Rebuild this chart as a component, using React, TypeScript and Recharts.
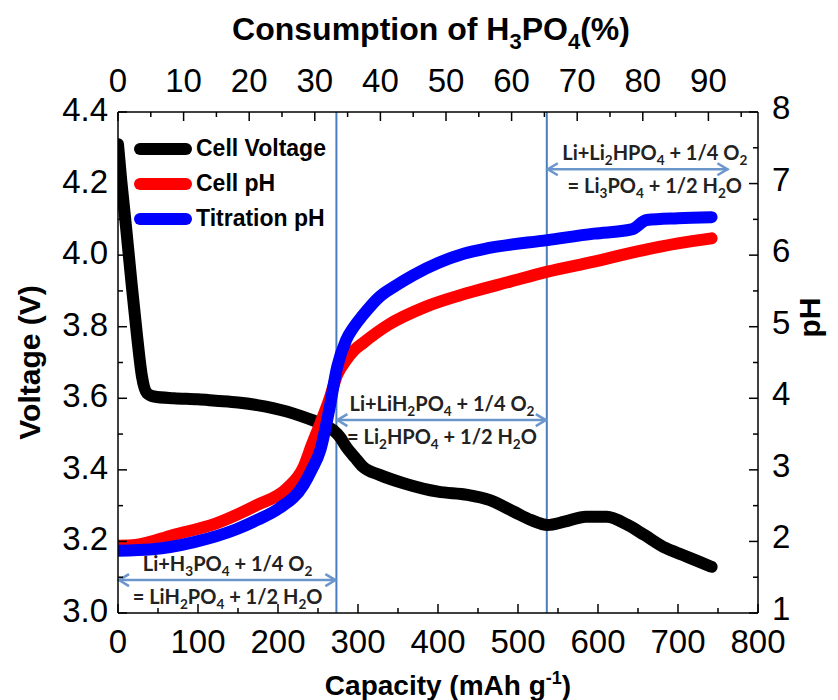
import {
  ComposedChart,
  Label,
  Legend,
  Line,
  ReferenceLine,
  XAxis,
  YAxis,
} from 'recharts';

const AXIS_FONT = '"Liberation Sans", Arial, sans-serif';
const NOTE_FONT = 'Lato, "Open Sans", sans-serif';
const GUIDE_BLUE = '#4a7ebb';
const ARROW_BLUE = '#6b96cc';

// Cell voltage (V) against discharge capacity (mAh/g)
const voltageCapacity = [
  0, 4, 10, 17, 24, 30, 36, 45, 70, 100, 122, 150, 174, 195, 211, 228, 243, 258, 269, 278, 285,
  296, 306, 327, 358, 400, 437, 464, 495, 516, 537, 558, 585, 611, 637, 658, 685, 706, 727, 742,
];
const cellVoltage = [
  4.31, 4.21, 4.08, 3.92, 3.77, 3.66, 3.615, 3.605, 3.6, 3.597, 3.593, 3.588, 3.581, 3.572, 3.563,
  3.551, 3.539, 3.525, 3.511, 3.49, 3.465, 3.435, 3.409, 3.386, 3.362, 3.339, 3.33, 3.316, 3.283,
  3.26, 3.246, 3.255, 3.269, 3.269, 3.246, 3.218, 3.181, 3.162, 3.143, 3.129,
];

// pH measured in the cell
const cellPhCapacity = [
  0, 22, 69, 122, 174, 211, 232, 242, 253, 264, 274, 285, 295, 306, 337, 385, 437, 490, 537, 595,
  648, 700, 742,
];
const cellPh = [
  1.94, 1.95, 2.09, 2.25, 2.51, 2.74, 3.04, 3.34, 3.65, 3.98, 4.33, 4.53, 4.67, 4.77, 5.02, 5.28,
  5.47, 5.63, 5.77, 5.91, 6.05, 6.165, 6.235,
];

// pH from the LiOH titration
const titrationCapacity = [
  0, 43, 95, 148, 174, 201, 232, 242, 253, 264, 274, 285, 295, 306, 327, 348, 369, 400, 432, 464,
  537, 595, 642, 661, 700, 742,
];
const titrationPh = [
  1.87, 1.89, 1.99, 2.17, 2.3, 2.46, 2.79, 3.0, 3.28, 3.84, 4.44, 4.81, 5.0, 5.16, 5.42, 5.58,
  5.72, 5.89, 6.02, 6.1, 6.21, 6.3, 6.36, 6.49, 6.515, 6.53,
];

const capacityTicks = [0, 50, 100, 150, 200, 250, 300, 350, 400, 450, 500, 550, 600, 650, 700, 750, 800];
const consumptionTicks = [0, 5, 10, 15, 20, 25, 30, 35, 40, 45, 50, 55, 60, 65, 70, 75, 80, 85, 90, 95];
const voltageTicks = [3.0, 3.1, 3.2, 3.3, 3.4, 3.5, 3.6, 3.7, 3.8, 3.9, 4.0, 4.1, 4.2, 4.3, 4.4];
const phTicks = [1, 1.5, 2, 2.5, 3, 3.5, 4, 4.5, 5, 5.5, 6, 6.5, 7, 7.5, 8];

// 820 mAh/g converts all of the H3PO4, so 800 mAh/g sits at 97.56 %
const fullCapacity = 820;
const consumptionMax = (800 / fullCapacity) * 100;

const stepBoundaries = [273, 536];

const reactionSteps = [
  { from: 0, to: 273, level: 3.092, center: 137, above: 'Li+H_3PO_4 + 1/4 O_2', below: '= LiH_2PO_4 + 1/2 H_2O' },
  { from: 273, to: 536, level: 3.539, center: 405, above: 'Li+LiH_2PO_4 + 1/4 O_2', below: '= Li_2HPO_4 + 1/2 H_2O' },
  { from: 536, to: 763, level: 4.24, center: 671, above: 'Li+Li_2HPO_4 + 1/4 O_2', below: '= Li_3PO_4 + 1/2 H_2O' },
];

const voltageData = voltageCapacity.map((cap, i) => ({ cap, value: cellVoltage[i] }));
const cellPhData = cellPhCapacity.map((cap, i) => ({ cap, value: cellPh[i] }));
const titrationData = titrationCapacity.map((cap, i) => ({ cap, value: titrationPh[i] }));
// same titration run expressed as % H3PO4 consumed, carries the top axis
const consumptionData = titrationCapacity.map((cap, i) => ({
  pct: (cap / fullCapacity) * 100,
  value: titrationPh[i],
}));

const TICK_SIZE = 33;
const MAJOR = 9;
const MINOR = 5;

function TickMark({ x1, y1, x2, y2 }: { x1: number; y1: number; x2: number; y2: number }) {
  return <line x1={x1} y1={y1} x2={x2} y2={y2} stroke="#000" strokeWidth={1.5} />;
}

const capacityTick = (p: any) => {
  const v = p.payload.value;
  const major = v % 100 === 0;
  return (
    <g>
      <TickMark x1={p.x} x2={p.x} y1={p.y} y2={p.y - (major ? MAJOR : MINOR)} />
      {major && (
        <text x={p.x} y={p.y + 40} textAnchor="middle" fontSize={TICK_SIZE} fontFamily={AXIS_FONT}>
          {v}
        </text>
      )}
    </g>
  );
};

const consumptionTick = (p: any) => {
  const v = p.payload.value;
  const major = v % 10 === 0;
  return (
    <g>
      <TickMark x1={p.x} x2={p.x} y1={p.y} y2={p.y + (major ? MAJOR : MINOR)} />
      {major && (
        <text x={p.x} y={p.y - 20} textAnchor="middle" fontSize={TICK_SIZE} fontFamily={AXIS_FONT}>
          {v}
        </text>
      )}
    </g>
  );
};

const voltageTick = (p: any) => {
  const v = p.payload.value;
  const major = Math.round(v * 10) % 2 === 0;
  return (
    <g>
      <TickMark x1={p.x} x2={p.x + (major ? MAJOR : MINOR)} y1={p.y} y2={p.y} />
      {major && (
        <text x={p.x - 10} y={p.y + 9} textAnchor="end" fontSize={TICK_SIZE} fontFamily={AXIS_FONT}>
          {v.toFixed(1)}
        </text>
      )}
    </g>
  );
};

const phTick = (p: any) => {
  const v = p.payload.value;
  const major = Number.isInteger(v);
  return (
    <g>
      <TickMark x1={p.x} x2={p.x - (major ? MAJOR : MINOR)} y1={p.y} y2={p.y} />
      {major && (
        <text x={p.x + 14} y={p.y + 7} textAnchor="start" fontSize={TICK_SIZE} fontFamily={AXIS_FONT}>
          {v}
        </text>
      )}
    </g>
  );
};

// "H_3PO_4" -> H, subscript 3, PO, subscript 4
function chemParts(formula: string, size: number, drop: number) {
  return formula.split(/_(\d)/).map((part, i) => {
    if (i % 2 === 1) {
      return (
        <tspan key={i} dy={drop} fontSize={size * 0.68}>
          {part}
        </tspan>
      );
    }
    return (
      <tspan key={i} dy={i === 0 ? 0 : -drop}>
        {part}
      </tspan>
    );
  });
}

function ReactionArrow(props: any) {
  const { x1, y1, x2, step } = props;
  const head = 11;
  const wing = 6;
  const cx = x1 + ((step.center - step.from) / (step.to - step.from)) * (x2 - x1);
  const arrowStyle = { fill: 'none', stroke: ARROW_BLUE, strokeWidth: 2.5 };
  const textProps = {
    x: cx,
    textAnchor: 'middle' as const,
    fontFamily: NOTE_FONT,
    fontWeight: 700,
    fontSize: 20,
    fill: '#222',
  };
  return (
    <g>
      <line x1={x1} y1={y1} x2={x2} y2={y1} {...arrowStyle} />
      <polyline points={`${x1 + head},${y1 - wing} ${x1 + 1},${y1} ${x1 + head},${y1 + wing}`} {...arrowStyle} />
      <polyline points={`${x2 - head},${y1 - wing} ${x2 - 1},${y1} ${x2 - head},${y1 + wing}`} {...arrowStyle} />
      <text y={y1 - 9} {...textProps}>
        {chemParts(step.above, 20, 5)}
      </text>
      <text y={y1 + 24} {...textProps}>
        {chemParts(step.below, 20, 5)}
      </text>
    </g>
  );
}

const titleStyle = { fontFamily: AXIS_FONT, fontWeight: 700, fill: '#000' };

const ConsumptionTitle = ({ viewBox }: any) => (
  <text x={viewBox.x + viewBox.width / 2 - 7} y={viewBox.y + 40} textAnchor="middle" fontSize={32} {...titleStyle}>
    Consumption of H<tspan dy={9} fontSize={22}>3</tspan>
    <tspan dy={-9}>PO</tspan>
    <tspan dy={9} fontSize={22}>4</tspan>
    <tspan dy={-9}>(%)</tspan>
  </text>
);

const CapacityTitle = ({ viewBox }: any) => (
  <text x={viewBox.x + viewBox.width / 2 + 10} y={viewBox.y + 82} textAnchor="middle" fontSize={28} {...titleStyle}>
    Capacity (mAh g<tspan dy={-11} fontSize={18}>-1</tspan>
    <tspan dy={11}>)</tspan>
  </text>
);

const VoltageTitle = ({ viewBox }: any) => {
  const x = viewBox.x + 40;
  const y = viewBox.y + viewBox.height / 2;
  return (
    <text x={x} y={y} transform={`rotate(-90, ${x}, ${y})`} textAnchor="middle" fontSize={30} {...titleStyle}>
      Voltage (V)
    </text>
  );
};

const PhTitle = ({ viewBox }: any) => {
  const x = viewBox.x + 62;
  const y = viewBox.y + viewBox.height / 2 - 45;
  return (
    <text x={x} y={y} transform={`rotate(-90, ${x}, ${y})`} textAnchor="middle" fontSize={30} {...titleStyle}>
      pH
    </text>
  );
};

function SeriesKey({ payload }: any) {
  const entries = (payload || []).filter((entry: any) => entry.type !== 'none');
  return (
    <div>
      {entries.map((entry: any) => (
        <div key={entry.value} style={{ display: 'flex', alignItems: 'center', height: 35 }}>
          <svg width={60} height={14} style={{ marginRight: 3 }}>
            <line x1={7} x2={53} y1={7} y2={7} stroke={entry.color} strokeWidth={12} strokeLinecap="round" />
          </svg>
          <span style={{ fontFamily: AXIS_FONT, fontWeight: 700, fontSize: 23, color: '#000' }}>
            {entry.value}
          </span>
        </div>
      ))}
    </div>
  );
}

const axisLine = { stroke: '#000', strokeWidth: 1.5 };

export default function App() {
  return (
    <div style={{ position: 'absolute', left: 0, top: 0, width: 838, height: 700, background: '#fff' }}>
      <ComposedChart width={838} height={700} margin={{ top: 0, right: 0, bottom: 0, left: 0 }}>
        <XAxis
          xAxisId="cap"
          dataKey="cap"
          type="number"
          domain={[0, 800]}
          ticks={capacityTicks}
          interval={0}
          height={87}
          tickSize={0}
          tickMargin={0}
          tick={capacityTick}
          axisLine={axisLine}
          allowDataOverflow
        >
          <Label content={CapacityTitle} />
        </XAxis>
        <XAxis
          xAxisId="pct"
          dataKey="pct"
          orientation="top"
          type="number"
          domain={[0, consumptionMax]}
          ticks={consumptionTicks}
          interval={0}
          height={112}
          tickSize={0}
          tickMargin={0}
          tick={consumptionTick}
          axisLine={axisLine}
          allowDataOverflow
        >
          <Label content={ConsumptionTitle} />
        </XAxis>
        <YAxis
          yAxisId="v"
          type="number"
          domain={[3.0, 4.4]}
          ticks={voltageTicks}
          interval={0}
          width={118}
          tickSize={0}
          tickMargin={0}
          tick={voltageTick}
          axisLine={axisLine}
          allowDataOverflow
        >
          <Label content={VoltageTitle} />
        </YAxis>
        <YAxis
          yAxisId="ph"
          orientation="right"
          type="number"
          domain={[1, 8]}
          ticks={phTicks}
          interval={0}
          width={80}
          tickSize={0}
          tickMargin={0}
          tick={phTick}
          axisLine={axisLine}
          allowDataOverflow
        >
          <Label content={PhTitle} />
        </YAxis>

        {stepBoundaries.map((cap) => (
          <ReferenceLine key={cap} xAxisId="cap" yAxisId="v" x={cap} stroke={GUIDE_BLUE} strokeWidth={2} />
        ))}

        <Line
          xAxisId="pct"
          yAxisId="ph"
          name="H3PO4 consumed"
          data={consumptionData}
          dataKey="value"
          type="monotone"
          stroke="none"
          legendType="none"
          dot={false}
          activeDot={false}
          isAnimationActive={false}
        />
        <Line
          xAxisId="cap"
          yAxisId="v"
          name="Cell Voltage"
          data={voltageData}
          dataKey="value"
          type="monotone"
          stroke="#000000"
          strokeWidth={12}
          strokeLinecap="round"
          strokeLinejoin="round"
          dot={false}
          activeDot={false}
          isAnimationActive={false}
        />
        <Line
          xAxisId="cap"
          yAxisId="ph"
          name="Cell pH"
          data={cellPhData}
          dataKey="value"
          type="monotone"
          stroke="#ff0000"
          strokeWidth={12}
          strokeLinecap="round"
          strokeLinejoin="round"
          dot={false}
          activeDot={false}
          isAnimationActive={false}
        />
        <Line
          xAxisId="cap"
          yAxisId="ph"
          name="Titration pH"
          data={titrationData}
          dataKey="value"
          type="monotone"
          stroke="#0000ff"
          strokeWidth={12}
          strokeLinecap="round"
          strokeLinejoin="round"
          dot={false}
          activeDot={false}
          isAnimationActive={false}
        />

        {reactionSteps.map((step) => (
          <ReferenceLine
            key={step.above}
            xAxisId="cap"
            yAxisId="v"
            segment={[
              { x: step.from, y: step.level },
              { x: step.to, y: step.level },
            ]}
            shape={(p: any) => <ReactionArrow {...p} step={step} />}
          />
        ))}

        <Legend
          layout="horizontal"
          verticalAlign="middle"
          align="center"
          content={SeriesKey}
          wrapperStyle={{ left: 133, top: 131, width: 'auto', height: 'auto' }}
        />
      </ComposedChart>
    </div>
  );
}
